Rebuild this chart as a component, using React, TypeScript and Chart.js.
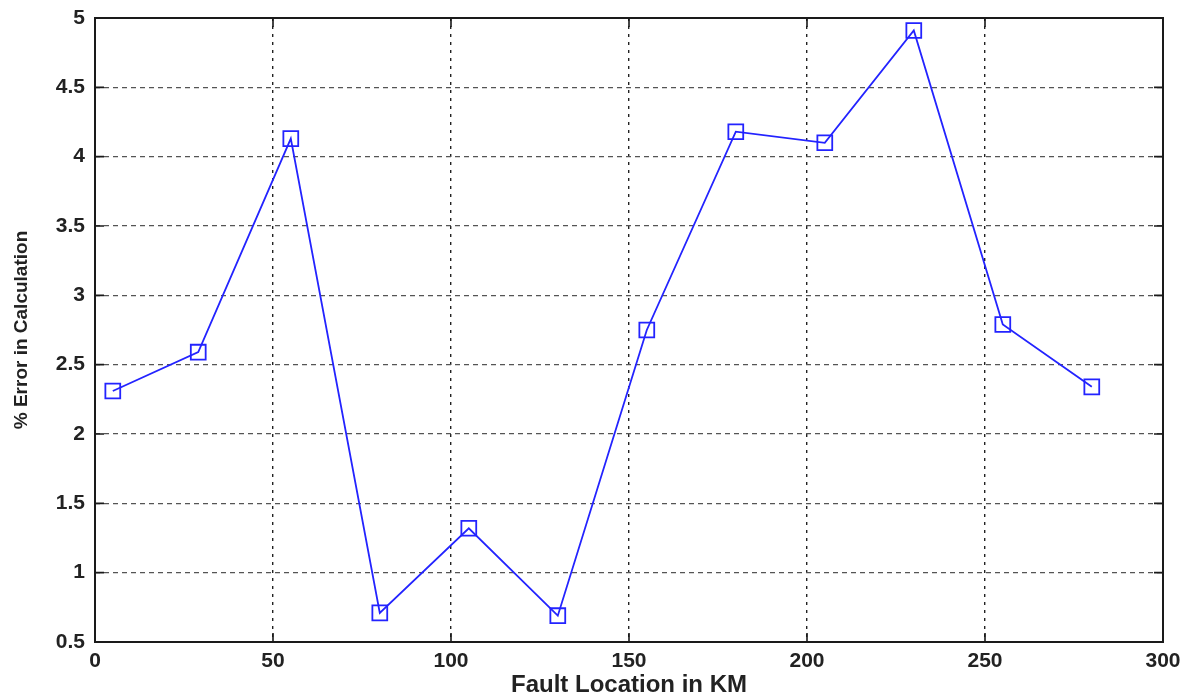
import React, { useEffect, useRef } from "react";
import { Chart, registerables } from "chart.js";

Chart.register(...registerables);

// Fault location (km) and the corresponding percentage error
const faultLocationKm = [5, 29, 55, 80, 105, 130, 155, 180, 205, 230, 255, 280];
const errorPercent = [2.31, 2.59, 4.13, 0.71, 1.32, 0.69, 2.75, 4.18, 4.1, 4.91, 2.79, 2.34];

// Axis ticks
const xTickValues = [0, 50, 100, 150, 200, 250, 300];
const yTickValues = [0.5, 1, 1.5, 2, 2.5, 3, 3.5, 4, 4.5, 5];

const FONT = "'Liberation Sans', Arial, Helvetica, sans-serif";

// Draws the boxed frame with inward tick marks on all four sides
const framePlugin = {
  id: "frameWithTicks",
  afterDraw(chart: any) {
    const { ctx, chartArea } = chart;
    const { left, right, top, bottom } = chartArea;
    const xs = chart.scales.x;
    const ys = chart.scales.y;
    const len = 9;
    ctx.save();
    ctx.strokeStyle = "#1a1a1a";
    ctx.lineWidth = 1.6;
    ctx.setLineDash([]);
    ctx.beginPath();
    for (const v of xTickValues) {
      const px = xs.getPixelForValue(v);
      ctx.moveTo(px, bottom);
      ctx.lineTo(px, bottom - len);
      ctx.moveTo(px, top);
      ctx.lineTo(px, top + len);
    }
    for (const v of yTickValues) {
      const py = ys.getPixelForValue(v);
      ctx.moveTo(left, py);
      ctx.lineTo(left + len, py);
      ctx.moveTo(right, py);
      ctx.lineTo(right - len, py);
    }
    ctx.stroke();
    ctx.lineWidth = 2;
    ctx.strokeRect(left, top, right - left, bottom - top);
    ctx.restore();
  },
};

export default function App() {
  const canvasRef = useRef<HTMLCanvasElement | null>(null);

  useEffect(() => {
    document.body.style.margin = "0";
    const canvas = canvasRef.current;
    if (!canvas) return;
    const chart = new Chart(canvas, {
      type: "scatter",
      data: {
        datasets: [
          {
            data: faultLocationKm.map((x, i) => ({ x, y: errorPercent[i] })),
            showLine: true,
            borderColor: "rgb(35,35,255)",
            borderWidth: 1.8,
            pointStyle: "rect",
            pointRadius: 10.5,
            pointBorderWidth: 1.8,
            pointBorderColor: "rgb(35,35,255)",
            pointBackgroundColor: "rgba(0,0,0,0)",
          },
        ],
      },
      options: {
        animation: false,
        responsive: true,
        maintainAspectRatio: false,
        layout: { padding: { top: 18, right: 30, left: 0, bottom: 0 } },
        plugins: {
          legend: { display: false },
          tooltip: { enabled: false },
        },
        scales: {
          x: {
            type: "linear",
            min: 0,
            max: 300,
            afterBuildTicks: (scale: any) => {
              scale.ticks = xTickValues.map((v) => ({ value: v }));
            },
            afterFit: (scale: any) => {
              scale.height = 55;
            },
            ticks: {
              color: "#222",
              font: { family: FONT, size: 21, weight: "bold" },
              padding: 7,
              maxRotation: 0,
              callback: (v: any) => String(v),
            },
            grid: { color: "#222", lineWidth: 1.4, drawTicks: false },
            border: { display: false, dash: [3, 5] },
            title: {
              display: true,
              text: "Fault Location in KM",
              color: "#222",
              font: { family: FONT, size: 24, weight: "bold", lineHeight: 1.0 },
              padding: { top: 0, bottom: 0 },
            },
          },
          y: {
            type: "linear",
            min: 0.5,
            max: 5,
            afterBuildTicks: (scale: any) => {
              scale.ticks = yTickValues.map((v) => ({ value: v }));
            },
            afterFit: (scale: any) => {
              scale.width = 95;
              scale.paddingTop = 0;
              scale.paddingBottom = 0;
            },
            ticks: {
              color: "#222",
              font: { family: FONT, size: 21, weight: "bold" },
              padding: 10,
              callback: (v: any) => String(v),
            },
            grid: { color: "#555", lineWidth: 1.3, drawTicks: false },
            border: { display: false, dash: [5, 4] },
            title: {
              display: true,
              text: "% Error in Calculation",
              color: "#222",
              font: { family: FONT, size: 19, weight: "bold" },
              padding: { top: 10, bottom: 0 },
            },
          },
        },
      },
      plugins: [framePlugin],
    });
    return () => chart.destroy();
  }, []);

  return (
    <div style={{ position: "absolute", left: 0, top: 0, width: 1193, height: 697, background: "#fff" }}>
      <canvas ref={canvasRef} />
    </div>
  );
}
